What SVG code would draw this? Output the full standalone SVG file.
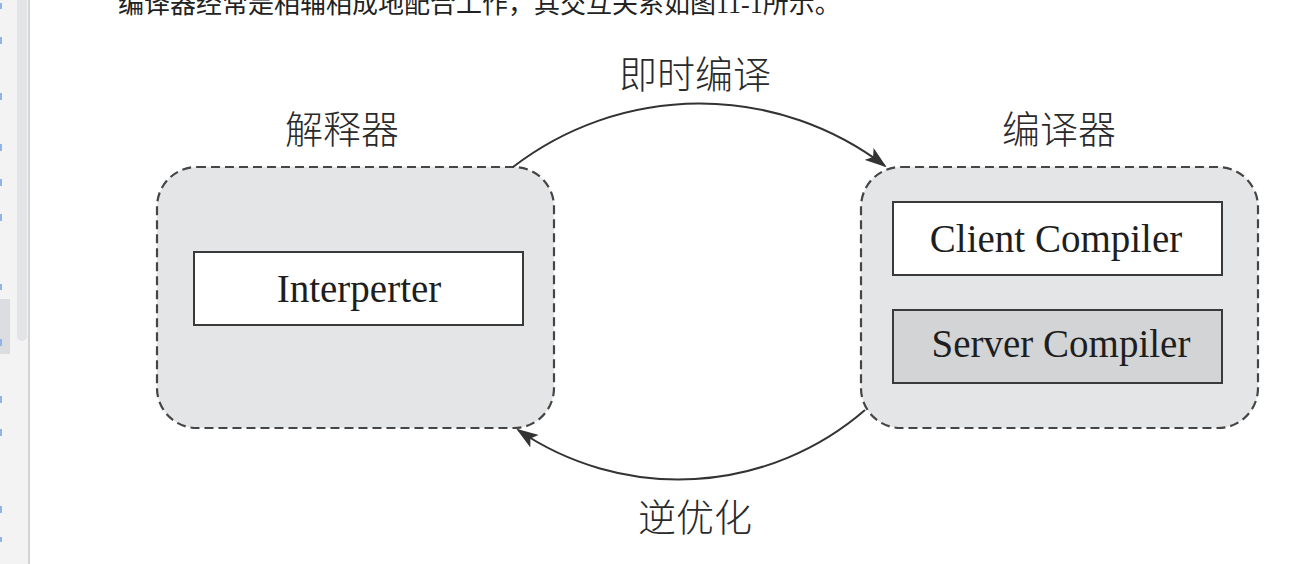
<svg xmlns="http://www.w3.org/2000/svg" width="1315" height="564" viewBox="0 0 1315 564">
  <style>
    .group { fill: #e4e5e7; stroke: #454545; stroke-width: 2.2; stroke-dasharray: 9 5; }
    .box { stroke: #3a3a3a; stroke-width: 2; }
    .en { font-family: "Liberation Serif", "Times New Roman", serif; font-size: 39px; fill: #1e1e1e; text-anchor: middle; }
    .cn { font-family: "Noto Sans CJK SC", sans-serif; font-size: 38px; font-weight: 300; fill: #2a2a2a; text-anchor: middle; }
    .link { fill: none; stroke: #333; stroke-width: 2; marker-end: url(#head); }
  </style>
  <defs>
    <marker id="head" viewBox="0 0 22 15" refX="20" refY="7.5" markerWidth="22" markerHeight="15" markerUnits="userSpaceOnUse" orient="auto">
      <path d="M0,0 L22,7.5 L0,15 L5,7.5 Z" fill="#333"/>
    </marker>
  </defs>

  <rect width="1315" height="564" fill="#ffffff"/>

  <!-- side panel -->
  <g id="sidebar">
    <rect x="0" y="0" width="28" height="564" fill="#f3f3f3"/>
    <rect x="28" y="0" width="2" height="564" fill="#d4d4d8"/>
    <path d="M17,0 H27 V336 A5,5 0 0 1 22,341 A5,5 0 0 1 17,336 Z" fill="#e3e4e6"/>
    <rect x="0" y="299" width="10" height="55" fill="#dcdde0"/>
    <g fill="#8fb4e6">
      <rect x="0" y="3" width="2" height="6"/>
      <rect x="0" y="37" width="2" height="7"/>
      <rect x="0" y="93" width="2" height="7"/>
      <rect x="0" y="144" width="2" height="7"/>
      <rect x="0" y="179" width="2" height="7"/>
      <rect x="0" y="214" width="2" height="7"/>
      <rect x="0" y="284" width="2" height="6"/>
      <rect x="0" y="339" width="2" height="7"/>
      <rect x="0" y="396" width="2" height="7"/>
      <rect x="0" y="429" width="2" height="7"/>
      <rect x="0" y="506" width="2" height="7"/>
      <rect x="0" y="537" width="2" height="5"/>
    </g>
  </g>

  <!-- paragraph line above the figure -->
  <text x="118" y="13" font-family="'Liberation Serif', 'Noto Sans CJK SC', serif" font-size="26" fill="#222">编译器经常是相辅相成地配合工作，其交互关系如图11-1所示。</text>

  <!-- interpreter group -->
  <g id="interpreter">
    <rect class="group" x="157" y="167" width="397" height="261" rx="40" ry="40"/>
    <text class="cn" x="342" y="143">解释器</text>
    <rect class="box" x="194" y="252" width="329" height="73" fill="#ffffff"/>
    <text class="en" x="359" y="302">Interperter</text>
  </g>

  <!-- compiler group -->
  <g id="compiler">
    <rect class="group" x="861" y="167" width="397" height="261" rx="40" ry="40"/>
    <text class="cn" x="1059" y="143">编译器</text>
  </g>

  <g id="client-compiler">
    <rect class="box" x="893" y="202" width="329" height="73" fill="#ffffff"/>
    <text class="en" x="1056" y="252">Client Compiler</text>
  </g>

  <g id="server-compiler">
    <rect class="box" x="893" y="310" width="329" height="73" fill="#d3d4d6"/>
    <text class="en" x="1061" y="357">Server Compiler</text>
  </g>

  <!-- transitions between the two groups -->
  <g id="connectors">
    <path class="link" d="M513,167 A306,306 0 0 1 885,166"/>
    <text class="cn" x="695" y="88">即时编译</text>
    <path class="link" d="M865,410 A285,285 0 0 1 518,430"/>
    <text class="cn" x="695" y="531">逆优化</text>
  </g>
</svg>
